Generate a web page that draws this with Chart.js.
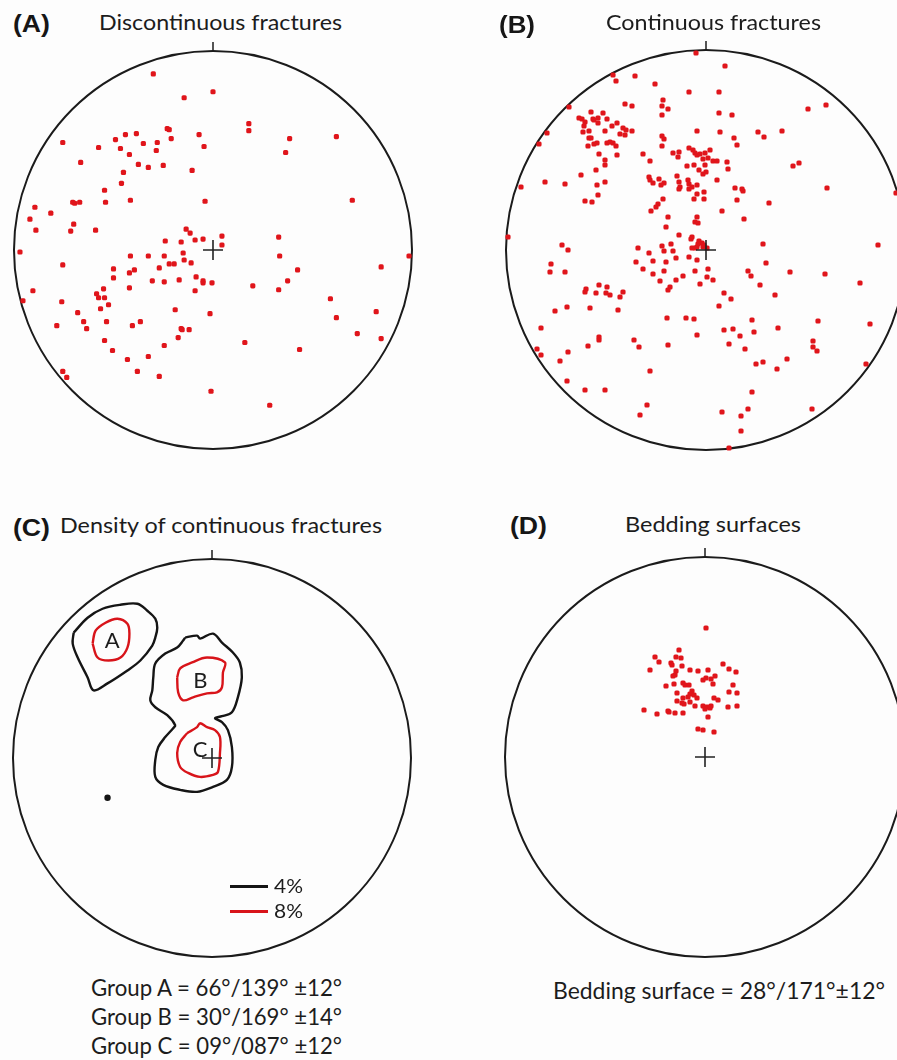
<!DOCTYPE html>
<html>
<head>
<meta charset="utf-8">
<title>Stereonets of fractures and bedding</title>
<script src="https://cdn.jsdelivr.net/npm/chart.js@4.4.1/dist/chart.umd.min.js"></script>
<style>
  html, body { margin: 0; padding: 0; background: #fdfdfd; }
  body { width: 897px; height: 1060px; position: relative; overflow: hidden;
         font-family: Lato, "Open Sans", sans-serif; color: #1c1c1c; }
  canvas { position: absolute; }
  .t { position: absolute; white-space: nowrap; line-height: 1; transform-origin: 0 0; }
  .tag { font-family: "Liberation Sans", Arial, sans-serif; font-weight: bold; font-size: 23px; color: #161616; }
  .ttl { font-size: 20.5px; }
  .cap { font-size: 23.5px; }
  .leg { font-size: 20px; }
  .grp { font-size: 22px; }
  .sw { position: absolute; height: 3px; }
</style>
</head>
<body>
<script>
// Poles plotted on a lower-hemisphere equal-area net, north up.
// Coordinates are east / north, with the primitive circle at radius 200.
const R = 200;

const panelTags = ['(A)', '(B)', '(C)', '(D)'];
const panelTitles = ['Discontinuous fractures', 'Continuous fractures',
                     'Density of continuous fractures', 'Bedding surfaces'];

// (A) poles to discontinuous fractures
const discontinuousPoles = [
  [-60,177],[0,159],[-29,153],[36,127],[36,120],[-46,122],[-44,121],[-42,112],[-14,116],[-9,104],
  [77,112],[73,98],[124,114],[-88,116],[-77,117],[-98,111],[-70,107],[-56,108],[-57,100],[-93,102],
  [-84,96],[-151,108],[-115,103],[-133,88],[-75,86],[-65,83],[-50,85],[-21,80],[-90,78],[-92,67],
  [-109,60],[-108,48],[-83,50],[-8,49],[140,50],[-141,48],[-139,47],[-134,48],[-179,43],[-163,37],
  [-184,31],[-140,26],[-178,20],[-143,19],[-118,20],[-194,-2],[197,-6],[-27,21],[-23,17],[-48,9],
  [-32,8],[-18,10],[-10,11],[9,14],[9,5],[66,13],[67,-6],[-83,-6],[-65,-6],[-49,-6],
  [-30,-3],[-29,-10],[-22,-13],[-44,-14],[-39,-14],[-54,-18],[-151,-15],[-100,-19],[-79,-20],[-84,-23],
  [-100,-28],[-61,-31],[-49,-32],[-34,-30],[-17,-27],[-10,-31],[-10,-33],[-1,-33],[40,-36],[75,-31],
  [85,-20],[66,-40],[169,-17],[-84,-38],[-18,-41],[-181,-41],[-110,-39],[-117,-44],[-109,-48],[-115,-48],
  [118,-49],[-191,-51],[-152,-52],[-105,-55],[-113,-59],[-136,-63],[-130,-72],[-127,-79],[-157,-76],[-107,-72],
  [-81,-76],[-73,-72],[-38,-60],[-3,-64],[-32,-79],[-31,-80],[-24,-80],[-35,-88],[-49,-96],[-109,-91],
  [-101,-101],[-86,-110],[-65,-107],[-76,-122],[-54,-127],[-151,-122],[-147,-128],[-2,-142],[32,-93],[87,-100],
  [124,-68],[164,-62],[145,-84],[169,-89],[57,-156]
];

// (B) poles to continuous fractures
const continuousPoles = [
  [-10,197],[19,184],[-93,175],[-90,169],[-71,174],[-51,166],[-17,158],[13,158],[-137,143],[-81,146],
  [-74,144],[-43,150],[-44,144],[-38,141],[-44,135],[13,137],[26,135],[102,141],[120,145],[-115,138],
  [-103,137],[-127,132],[-124,131],[-121,128],[-113,131],[-112,130],[-108,132],[-99,131],[-122,124],[-108,127],
  [-89,127],[-94,124],[-83,122],[-80,120],[-74,119],[-123,118],[-117,119],[-101,119],[-86,116],[-81,115],
  [-117,112],[-115,112],[-109,107],[-118,104],[-112,106],[-99,107],[-96,108],[-93,107],[-90,104],[-107,96],
  [-89,95],[-101,90],[-101,85],[-110,80],[-125,75],[-109,65],[-101,68],[-108,55],[-121,49],[-114,48],
  [-161,68],[-141,66],[-185,63],[-167,106],[-159,117],[-44,114],[-42,111],[-44,104],[-9,119],[14,118],
  [28,112],[31,105],[52,118],[58,113],[76,119],[-63,96],[-56,89],[-33,97],[-27,98],[-28,93],
  [-17,102],[-13,100],[-11,97],[-9,95],[-6,96],[-1,97],[4,100],[-3,91],[2,92],[-19,84],
  [-12,85],[-1,85],[7,89],[11,89],[21,88],[22,81],[-3,76],[0,78],[-7,80],[87,84],
  [93,87],[-29,74],[-57,73],[-56,70],[-53,67],[-47,71],[-42,67],[-45,65],[-27,68],[-26,63],
  [-27,61],[-18,70],[-17,66],[-14,63],[-17,61],[-9,65],[11,70],[-9,56],[-2,58],[-2,51],
  [-12,51],[29,62],[36,61],[37,59],[31,50],[63,47],[121,62],[190,57],[-43,51],[-48,46],
  [-50,43],[-55,39],[16,39],[-38,33],[-9,33],[-11,28],[-8,27],[38,31],[-40,23],[-27,15],
  [-14,13],[-15,11],[-7,9],[-4,7],[-44,4],[-35,6],[-68,2],[-57,-3],[-42,-1],[-33,-1],
  [-14,2],[-11,2],[-9,3],[-3,3],[-2,5],[1,2],[-8,6],[57,6],[172,5],[-144,5],
  [-138,0],[-198,13],[-30,-8],[-17,-7],[-9,-10],[-53,-11],[-40,-12],[-70,-12],[-63,-19],[-53,-24],
  [-42,-21],[-30,-30],[-23,-26],[-11,-21],[2,-19],[1,-27],[7,-30],[-6,-34],[-46,-31],[-36,-37],
  [-38,-40],[-155,-14],[-156,-22],[-141,-22],[42,-21],[45,-26],[60,-13],[84,-22],[119,-24],[154,-33],
  [54,-35],[18,-43],[69,-45],[25,-49],[-107,-35],[-99,-37],[-120,-39],[-121,-42],[-110,-43],[-100,-43],
  [-96,-45],[-86,-47],[-83,-42],[13,-56],[-151,-61],[-139,-57],[-116,-58],[-88,-60],[-165,-78],[-39,-68],
  [-20,-68],[-12,-69],[46,-70],[72,-78],[112,-71],[164,-74],[18,-80],[27,-79],[48,-82],[34,-86],
  [-9,-85],[23,-94],[39,-99],[-107,-87],[-107,-90],[-72,-90],[-67,-97],[-38,-95],[-118,-96],[-169,-99],
  [-165,-105],[-138,-102],[-146,-111],[107,-91],[107,-97],[111,-101],[81,-109],[50,-114],[57,-112],[71,-119],
  [160,-114],[-56,-121],[-139,-131],[-121,-140],[-101,-140],[46,-142],[-59,-155],[-66,-165],[16,-162],[35,-166],
  [42,-159],[106,-159],[35,-181],[23,-198]
];

// (C) density contours of continuous-fracture poles
const contourLevels = ['4%', '8%'];
const contour4A = [[-139,126],[-125,141],[-110,150],[-92,154],[-75,155],[-65,148],[-57,140],[-55,131],[-57,121],
  [-60,113],[-72,98],[-85,88],[-105,75],[-119,68],[-125,81],[-135,101],[-140,115]];
const contour4BC = [[-27,121],[-15,123],[-12,120],[1,125],[10,116],[21,106],[28,96],[30,81],[26,61],[20,46],
  [10,42],[3,40],[10,36],[16,28],[20,11],[20,-9],[15,-22],[1,-29],[-15,-34],[-32,-32],[-49,-27],[-57,-19],
  [-57,-2],[-54,11],[-47,21],[-39,30],[-37,33],[-45,43],[-57,51],[-62,58],[-60,68],[-59,81],[-57,95],
  [-47,105],[-35,111],[-29,118]];
const contour4Spot = [-105,-40];
const contour8A = [[-120,115],[-117,128],[-107,136],[-95,140],[-85,135],[-83,125],[-85,111],[-92,101],[-104,98],[-115,101]];
const contour8B = [[-35,81],[-32,90],[-20,96],[-5,101],[13,96],[11,86],[10,71],[5,66],[-5,65],[-19,61],[-29,58],[-34,66]];
const contour8C = [[-25,25],[-15,31],[-12,35],[-5,31],[3,28],[8,21],[8,5],[6,-14],[1,-17],[-12,-19],[-24,-15],
  [-32,-9],[-35,5],[-32,16]];

// Mean orientations (dip / dip direction / cone) of the groups
const groupNames = ['A', 'B', 'C'];
const groupDip = [66, 30, 9];
const groupDipDir = [139, 169, 87];
const groupSpread = [12, 14, 12];

// (D) poles to bedding surfaces
const beddingPoles = [
  [1,129],[-26,107],[-50,100],[-46,95],[-29,100],[-24,99],[-34,94],[-33,92],[-23,91],[-55,87],
  [-29,86],[-30,82],[-32,81],[-15,87],[-7,86],[3,87],[18,93],[24,88],[31,85],[10,81],
  [6,78],[1,79],[-2,77],[-31,73],[-22,74],[-20,72],[-16,72],[-39,71],[8,73],[28,72],
  [-13,66],[-15,63],[-17,60],[-11,62],[-28,64],[24,65],[32,64],[-22,59],[-8,59],[9,59],
  [13,57],[-28,56],[-23,54],[-21,53],[-15,55],[-10,51],[-2,51],[2,50],[5,49],[0,48],
  [6,51],[23,50],[32,51],[-61,47],[-48,43],[-37,46],[-36,45],[-30,44],[-22,44],[3,40],
  [-7,28],[-2,27],[9,25]
];
const beddingDip = 28, beddingDipDir = 171, beddingSpread = 12;

// ---------------------------------------------------------------------------
const RED = '#e0151b';
const INK = '#151515';
const PAD = 14;

const netFrame = {
  id: 'netFrame',
  beforeDatasetsDraw(chart) {
    const { ctx, scales: { x, y } } = chart;
    const cx = x.getPixelForValue(0), cy = y.getPixelForValue(0);
    const r = x.getPixelForValue(R) - cx;
    ctx.save();
    ctx.strokeStyle = '#1b1b1b';
    ctx.lineWidth = 2;
    ctx.beginPath();
    ctx.arc(cx, cy, r, 0, Math.PI * 2);
    ctx.stroke();
    ctx.lineWidth = 1.5;
    ctx.beginPath();
    ctx.moveTo(cx, cy - r);
    ctx.lineTo(cx, cy - r - 9);
    ctx.stroke();
    ctx.restore();
  },
  afterDatasetsDraw(chart) {
    const { ctx, scales: { x, y } } = chart;
    const cx = x.getPixelForValue(0), cy = y.getPixelForValue(0);
    ctx.save();
    ctx.strokeStyle = '#222';
    ctx.lineWidth = 1.6;
    ctx.beginPath();
    ctx.moveTo(cx - 10, cy); ctx.lineTo(cx + 10, cy);
    ctx.moveTo(cx, cy - 10); ctx.lineTo(cx, cy + 10);
    ctx.stroke();
    ctx.restore();
  }
};

const toXY = pts => pts.map(([x, y]) => ({ x, y }));
const closed = pts => toXY(pts.concat([pts[0]]));

function poleSet(label, pts) {
  return {
    label, data: toXY(pts), showLine: false, clip: false,
    pointStyle: 'rectRounded', pointRadius: 3, pointBackgroundColor: RED,
    pointBorderWidth: 0, borderWidth: 0
  };
}
function contourSet(label, pts, color) {
  return {
    label, data: closed(pts), showLine: true, clip: false, fill: false,
    borderColor: color, borderWidth: 2.4, pointRadius: 0, tension: 0.35
  };
}

function net(cx, cy, rpx, datasets) {
  const c = document.createElement('canvas');
  const size = 2 * (rpx + PAD);
  c.width = size; c.height = size;
  c.style.width = size + 'px'; c.style.height = size + 'px';
  c.style.left = (cx - rpx - PAD) + 'px';
  c.style.top = (cy - rpx - PAD) + 'px';
  document.body.appendChild(c);
  const chart = new Chart(c, {
    type: 'scatter',
    data: { datasets },
    options: {
      responsive: false, animation: false, devicePixelRatio: 1, events: [],
      layout: { padding: PAD },
      scales: {
        x: { type: 'linear', min: -R, max: R, display: false },
        y: { type: 'linear', min: -R, max: R, display: false }
      },
      plugins: { legend: { display: false }, tooltip: { enabled: false } }
    },
    plugins: [netFrame]
  });
  chart.pageOffset = { left: cx - rpx - PAD, top: cy - rpx - PAD };
  return chart;
}

function addText(str, cls, left, baseline, width) {
  const el = document.createElement('div');
  el.className = 't ' + cls;
  el.textContent = str;
  document.body.appendChild(el);
  const probe = document.createElement('span');
  probe.style.cssText = 'display:inline-block;width:0;height:0;vertical-align:baseline';
  el.appendChild(probe);
  const base = probe.offsetTop;
  el.removeChild(probe);
  el.style.left = left + 'px';
  el.style.top = (baseline - base) + 'px';
  if (width) {
    const w = el.getBoundingClientRect().width;
    el.style.transform = 'scaleX(' + (width / w).toFixed(4) + ')';
  }
  return el;
}

// Panels
net(213, 250, 199, [poleSet('Discontinuous fractures', discontinuousPoles)]);
net(706, 250, 200, [poleSet('Continuous fractures', continuousPoles)]);
const density = net(212, 758, 199, [
  contourSet(contourLevels[0], contour4A, INK),
  contourSet(contourLevels[0], contour4BC, INK),
  { label: contourLevels[0], data: toXY([contour4Spot]), showLine: false, clip: false,
    pointStyle: 'circle', pointRadius: 3.2, pointBackgroundColor: INK, pointBorderWidth: 0 },
  contourSet(contourLevels[1], contour8A, '#d8141a'),
  contourSet(contourLevels[1], contour8B, '#d8141a'),
  contourSet(contourLevels[1], contour8C, '#d8141a')
]);
net(705, 757, 200, [poleSet('Bedding surfaces', beddingPoles)]);

// Panel headings
addText(panelTags[0], 'tag', 13, 32, 37);
addText(panelTitles[0], 'ttl', 99, 29.5, 243);
addText(panelTags[1], 'tag', 499, 33, 36);
addText(panelTitles[1], 'ttl', 606, 30, 215);
addText(panelTags[2], 'tag', 13, 536, 37);
addText(panelTitles[2], 'ttl', 60, 533, 322);
addText(panelTags[3], 'tag', 510, 533.5, 37);
addText(panelTitles[3], 'ttl', 625, 531.5, 176);

// Group letters at the centre of each 8% contour
[contour8A, contour8B, contour8C].forEach((pts, i) => {
  const mx = pts.reduce((s, p) => s + p[0], 0) / pts.length;
  const my = pts.reduce((s, p) => s + p[1], 0) / pts.length;
  const px = density.pageOffset.left + density.scales.x.getPixelForValue(mx);
  const py = density.pageOffset.top + density.scales.y.getPixelForValue(my);
  const el = addText(groupNames[i], 'grp', 0, py + 8);
  el.style.left = (px - el.getBoundingClientRect().width / 2) + 'px';
});

// Contour legend
const levelColors = [INK, '#d8141a'];
contourLevels.forEach((lv, i) => {
  const sw = document.createElement('div');
  sw.className = 'sw';
  sw.style.cssText += ';left:230px;width:38px;top:' + (884.5 + i * 25.7) + 'px;background:' + levelColors[i];
  document.body.appendChild(sw);
  addText(lv, 'leg', 274, 893.3 + i * 25, 29);
});

// Group and bedding summaries
const deg = v => String(v).padStart(2, '0') + '\u00B0';
const deg3 = v => String(v).padStart(3, '0') + '\u00B0';
groupNames.forEach((g, i) => {
  addText('Group ' + g + ' = ' + deg(groupDip[i]) + '/' + deg3(groupDipDir[i]) + ' \u00B1' + groupSpread[i] + '\u00B0',
          'cap', 91, 995.5 + i * 29, 251);
});
addText('Bedding surface = ' + deg(beddingDip) + '/' + deg3(beddingDipDir) + '\u00B1' + beddingSpread + '\u00B0',
        'cap', 553, 999.3, 332);
</script>
</body>
</html>
